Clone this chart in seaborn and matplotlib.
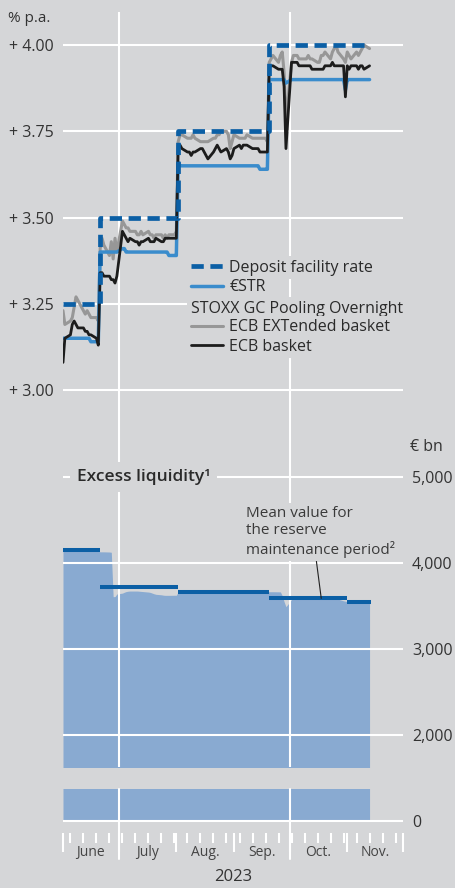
import pandas as pd
import numpy as np
import matplotlib
matplotlib.use('Agg')
import matplotlib.pyplot as plt
import matplotlib.dates as mdates
import matplotlib.transforms as mtransforms
import seaborn as sns


# 日期：2023年6月1日至11月13日的工作日
dates = pd.bdate_range('2023-06-01', '2023-11-13')

# 存款便利利率（生效日期和水平）
dfr_dates = pd.to_datetime(['2023-06-01', '2023-06-21', '2023-08-02', '2023-09-20', '2023-11-13'])
dfr_levels = [3.25, 3.50, 3.75, 4.00, 4.00]

# €STR，每行一个月
estr = [3.15, 3.15, 3.15, 3.15, 3.15, 3.15, 3.15, 3.15, 3.15, 3.15, 3.15, 3.14, 3.14, 3.14, 3.40, 3.40, 3.40, 3.40, 3.40, 3.40, 3.40, 3.40,
        3.41, 3.41, 3.40, 3.40, 3.40, 3.40, 3.40, 3.40, 3.40, 3.40, 3.40, 3.40, 3.40, 3.40, 3.40, 3.40, 3.40, 3.40, 3.40, 3.39, 3.39,
        3.39, 3.66, 3.65, 3.65, 3.65, 3.65, 3.65, 3.65, 3.65, 3.65, 3.65, 3.65, 3.65, 3.65, 3.65, 3.65, 3.65, 3.65, 3.65, 3.65, 3.65, 3.65, 3.65,
        3.65, 3.65, 3.65, 3.65, 3.65, 3.65, 3.65, 3.65, 3.65, 3.65, 3.64, 3.64, 3.64, 3.90, 3.90, 3.90, 3.90, 3.90, 3.90, 3.90, 3.89,
        3.90, 3.90, 3.90, 3.90, 3.90, 3.90, 3.90, 3.90, 3.90, 3.90, 3.90, 3.90, 3.90, 3.90, 3.90, 3.90, 3.90, 3.90, 3.90, 3.90, 3.90, 3.87,
        3.90, 3.90, 3.90, 3.90, 3.90, 3.90, 3.90, 3.90, 3.90]

# STOXX GC Pooling Overnight - ECB EXTended basket
gc_ext = [3.23, 3.19, 3.20, 3.21, 3.24, 3.27, 3.26, 3.23, 3.22, 3.23, 3.22, 3.21, 3.21, 3.20, 3.41, 3.44, 3.42, 3.39, 3.43, 3.38, 3.44, 3.40,
          3.49, 3.48, 3.47, 3.47, 3.46, 3.46, 3.45, 3.45, 3.46, 3.45, 3.46, 3.45, 3.45, 3.44, 3.45, 3.45, 3.44, 3.45, 3.44, 3.45, 3.45,
          3.46, 3.72, 3.74, 3.74, 3.73, 3.73, 3.73, 3.74, 3.73, 3.72, 3.72, 3.72, 3.72, 3.72, 3.73, 3.73, 3.74, 3.74, 3.75, 3.75, 3.74, 3.70, 3.72,
          3.74, 3.73, 3.73, 3.73, 3.73, 3.74, 3.73, 3.73, 3.73, 3.73, 3.73, 3.73, 3.72, 3.95, 3.96, 3.97, 3.95, 3.97, 3.98, 3.92, 3.78,
          3.95, 3.97, 3.97, 3.97, 3.96, 3.96, 3.96, 3.97, 3.96, 3.96, 3.95, 3.95, 3.97, 3.97, 3.98, 3.96, 3.98, 3.99, 4.00, 3.98, 3.96, 3.95,
          3.98, 3.97, 3.96, 3.98, 3.97, 3.98, 3.99, 4.00, 3.99]

# STOXX GC Pooling Overnight - ECB basket
gc_ecb = [3.08, 3.15, 3.16, 3.19, 3.20, 3.19, 3.18, 3.18, 3.17, 3.17, 3.16, 3.16, 3.15, 3.13, 3.34, 3.34, 3.33, 3.33, 3.32, 3.32, 3.31, 3.33,
          3.46, 3.45, 3.44, 3.43, 3.44, 3.43, 3.43, 3.42, 3.43, 3.43, 3.44, 3.43, 3.43, 3.43, 3.44, 3.43, 3.43, 3.44, 3.44, 3.44, 3.44,
          3.44, 3.71, 3.71, 3.70, 3.69, 3.69, 3.68, 3.69, 3.69, 3.70, 3.70, 3.69, 3.68, 3.67, 3.69, 3.70, 3.71, 3.70, 3.69, 3.70, 3.69, 3.67, 3.68,
          3.70, 3.71, 3.70, 3.71, 3.71, 3.71, 3.70, 3.70, 3.70, 3.70, 3.69, 3.69, 3.69, 3.94, 3.94, 3.94, 3.93, 3.93, 3.93, 3.88, 3.70,
          3.95, 3.95, 3.95, 3.95, 3.94, 3.94, 3.94, 3.94, 3.94, 3.93, 3.93, 3.93, 3.93, 3.93, 3.94, 3.94, 3.95, 3.94, 3.94, 3.94, 3.94, 3.85,
          3.94, 3.93, 3.94, 3.94, 3.93, 3.94, 3.94, 3.93, 3.94]

# 超额流动性（十亿欧元）
excess = [4160, 4165, 4170, 4175, 4178, 4178, 4176, 4170, 4168, 4165, 4160, 4150, 4140, 4135, 4130, 4130, 4130, 4128, 4125, 3608, 3610, 3640,
          3650, 3660, 3668, 3672, 3674, 3674, 3674, 3672, 3670, 3668, 3662, 3658, 3650, 3642, 3636, 3630, 3626, 3624, 3624, 3624, 3625,
          3625, 3663, 3664, 3664, 3663, 3662, 3662, 3661, 3660, 3660, 3660, 3660, 3660, 3660, 3660, 3660, 3660, 3660, 3660, 3660, 3659, 3659, 3658,
          3658, 3658, 3658, 3658, 3659, 3660, 3660, 3661, 3662, 3663, 3664, 3665, 3666, 3666, 3666, 3666, 3665, 3664, 3620, 3550, 3492,
          3575, 3580, 3583, 3585, 3586, 3588, 3588, 3588, 3588, 3588, 3588, 3588, 3588, 3588, 3588, 3587, 3586, 3585, 3584, 3580, 3560, 3556,
          3552, 3550, 3550, 3550, 3548, 3548, 3547, 3546, 3545]

# 准备金维持期的平均值
mp_starts = pd.to_datetime(['2023-06-01', '2023-06-21', '2023-08-02', '2023-09-20', '2023-11-01'])
mp_ends = pd.to_datetime(['2023-06-21', '2023-08-02', '2023-09-20', '2023-11-01', '2023-11-14'])
mp_means = [4150, 3722, 3659, 3589, 3550]

# 刻度和标签
quarter_lines = pd.to_datetime(['2023-07-01', '2023-10-01'])
month_names = ['June', 'July', 'Aug.', 'Sep.', 'Oct.', 'Nov.']
rate_ticks = [3.00, 3.25, 3.50, 3.75, 4.00]
liq_ticks = [2000, 3000, 4000, 5000]

# 颜色
bg = '#d5d6d8'
c_dfr = '#0b5fa5'
c_estr = '#3a8ccc'
c_ext = '#979797'
c_ecb = '#1c1c1c'
c_area = '#89aad1'
c_text = '#2a2a2a'

sns.set_theme(style='white', rc={'figure.facecolor': bg, 'axes.facecolor': bg,
                                 'savefig.facecolor': bg, 'axes.axisbelow': 'line'})
plt.rcParams['font.family'] = ['Open Sans', 'DejaVu Sans']

W, H = 456, 888
fig = plt.figure(figsize=(W / 100, H / 100), dpi=100)
# 上图：利率；下图：超额流动性（断轴，分上下两部分）
ax_r = fig.add_axes([63 / W, 1 - 420 / H, 340 / W, 408 / H])
ax_hi = fig.add_axes([63 / W, 1 - 767 / H, 340 / W, 347 / H], sharex=ax_r)
ax_lo = fig.add_axes([63 / W, 1 - 823 / H, 340 / W, 34 / H], sharex=ax_r)

ax_r.set_xlim(pd.Timestamp('2023-06-01'), pd.Timestamp('2023-12-01'))

# 利率曲线
sns.lineplot(x=dfr_dates, y=dfr_levels, ax=ax_r, drawstyle='steps-post', color=c_dfr,
             lw=3.4, linestyle=(0, (2.6, 1.4)), label='Deposit facility rate', zorder=2.4)
sns.lineplot(x=dates, y=estr, ax=ax_r, color=c_estr, lw=2.5, label='€STR', zorder=2.2)
sns.lineplot(x=dates, y=gc_ext, ax=ax_r, color=c_ext, lw=2.2, label='ECB EXTended basket', zorder=2.1)
sns.lineplot(x=dates, y=gc_ecb, ax=ax_r, color=c_ecb, lw=2.0, label='ECB basket', zorder=2.3)

ax_r.set_ylim(2.913, 4.096)
ax_r.set_yticks(rate_ticks, labels=[f'+ {v:.2f}' for v in rate_ticks])

# 超额流动性面积图（两部分都画，靠坐标范围裁剪）
for ax in (ax_hi, ax_lo):
    ax.fill_between(dates, 0, excess, color=c_area, lw=0, zorder=0.5)
ax_hi.hlines(mp_means, mp_starts, mp_ends, color=c_dfr, lw=2.9, zorder=3)

ax_hi.set_ylim(1628, 5663)
ax_lo.set_ylim(-23, 372)
ax_hi.set_yticks(liq_ticks, labels=[f'{v:,}' for v in liq_ticks])
ax_lo.set_yticks([0], labels=['0'])
for ax in (ax_hi, ax_lo):
    ax.yaxis.tick_right()
    ax.tick_params(axis='y', length=0, pad=6.5, labelsize=11.5, labelcolor='#333333')
ax_r.tick_params(axis='y', length=0, pad=7, labelsize=11.5, labelcolor='#333333')

# 网格线
for ax in (ax_r, ax_hi, ax_lo):
    ax.grid(axis='y', color='white', lw=1.5)
    ax.grid(axis='x', visible=False)
    for s in ax.spines.values():
        s.set_visible(False)
    for d in quarter_lines:
        if ax is ax_lo:
            ax.axvline(d, ymin=-1.05, ymax=1, color='white', lw=1.5, clip_on=False)
        else:
            ax.axvline(d, color='white', lw=1.5)

# x轴刻度：月初长刻度，每周一短刻度
ax_lo.xaxis.set_major_locator(mdates.MonthLocator())
ax_lo.xaxis.set_minor_locator(mdates.WeekdayLocator(byweekday=mdates.MO))
ax_lo.xaxis.set_major_formatter(matplotlib.ticker.NullFormatter())
ax_lo.spines['bottom'].set_position(('outward', 7.2))
ax_lo.tick_params(axis='x', which='major', bottom=True, length=13.7, width=1.5, color='white')
ax_lo.tick_params(axis='x', which='minor', bottom=True, length=7.2, width=1.5, color='white')
for ax in (ax_r, ax_hi):
    ax.tick_params(axis='x', which='both', bottom=False, labelbottom=False)

month_starts = pd.date_range('2023-06-01', periods=7, freq='MS')
month_mids = month_starts[:-1] + (month_starts[1:] - month_starts[:-1]) / 2
trans = mtransforms.blended_transform_factory(ax_lo.transData, ax_lo.transAxes)
for d, name in zip(month_mids, month_names):
    ax_lo.text(d, -0.88, name, transform=trans, ha='center', va='center', fontsize=10, color='#444444')
ax_lo.text(0.5, -1.59, '2023', transform=ax_lo.transAxes, ha='center', va='center', fontsize=12, color='#333333')

# 图例
handles, labels = ax_r.get_legend_handles_labels()
h = dict(zip(labels, handles))
leg_kw = dict(loc='center left', frameon=False, fontsize=11.5, handlelength=2.0, handletextpad=0.42,
              labelspacing=0.22, borderpad=0, borderaxespad=0, labelcolor=c_text)
leg1 = ax_r.legend([h['Deposit facility rate'], h['€STR']], ['Deposit facility rate', '€STR'],
                   bbox_to_anchor=(0.3756, 0.3493), **leg_kw)
ax_r.add_artist(leg1)
leg2 = ax_r.legend([h['ECB EXTended basket'], h['ECB basket']], ['ECB EXTended basket', 'ECB basket'],
                   bbox_to_anchor=(0.3756, 0.2034), **leg_kw)
for leg in (leg1, leg2):
    for t in leg.get_texts():
        t.set_bbox(dict(facecolor=bg, edgecolor='none', pad=2.5))
ax_r.text(0.3756, 0.2728, 'STOXX GC Pooling Overnight', transform=ax_r.transAxes, ha='left', va='center',
          fontsize=11.5, color=c_text, zorder=5, bbox=dict(facecolor=bg, edgecolor='none', pad=3))

# 其他文字
ax_r.text(-0.162, 0.985, '% p.a.', transform=ax_r.transAxes, ha='left', va='center', fontsize=11, color='#333333')
ax_hi.text(1.0206, 0.923, '€ bn', transform=ax_hi.transAxes, ha='left', va='center', fontsize=11.5, color='#333333')
ax_hi.text(0.041, 5000, 'Excess liquidity¹', transform=mtransforms.blended_transform_factory(ax_hi.transAxes, ax_hi.transData),
           ha='left', va='center', fontsize=12.5, fontweight='semibold', color=c_text, zorder=5,
           bbox=dict(facecolor=bg, edgecolor='none', pad=5))
ax_hi.annotate('Mean value for\nthe reserve\nmaintenance period²', xy=(pd.Timestamp('2023-10-18'), mp_means[3]),
               xytext=(0.538, 0.752), textcoords='axes fraction', ha='left', va='top', fontsize=11,
               color='#3a3a3a', linespacing=1.2, zorder=5, bbox=dict(facecolor=bg, edgecolor='none', pad=2.5),
               arrowprops=dict(arrowstyle='-', color='#222222', lw=0.8, relpos=(0.47, 0), shrinkA=0, shrinkB=0))

fig.savefig('out.png', dpi=100)
